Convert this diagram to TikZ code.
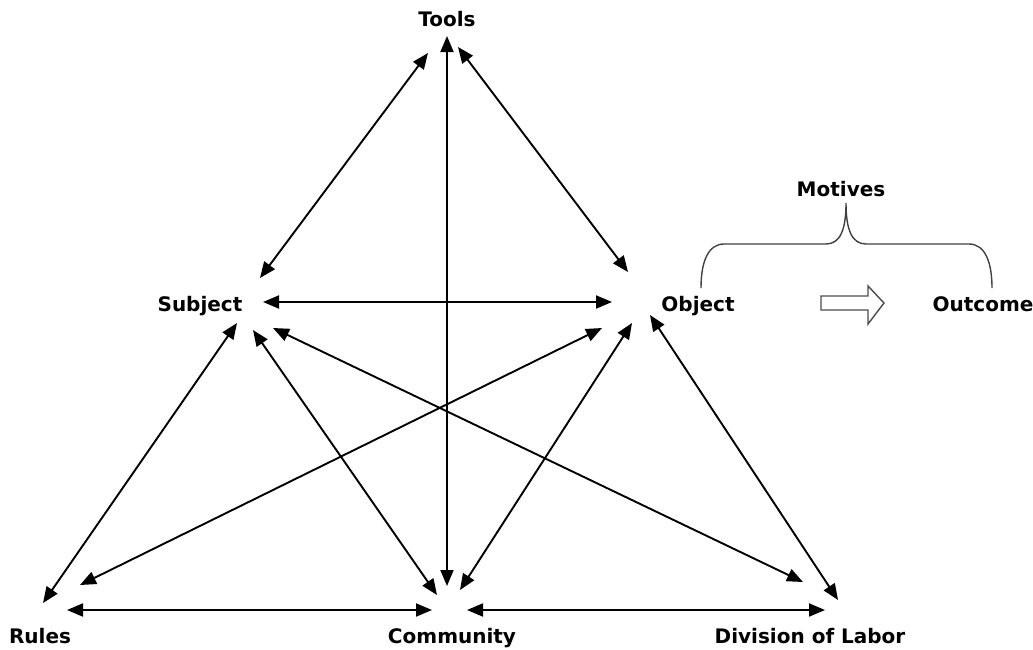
\documentclass[tikz,border=0pt]{standalone}
\usepackage{fontspec}
\setmainfont{DejaVu Sans}
\usetikzlibrary{arrows.meta}
\begin{document}
\begin{tikzpicture}[x=1pt,y=-1pt,
  lbl/.style={font=\fontsize{20}{23}\selectfont\bfseries, anchor=base, inner sep=0pt},
  conn/.style={line width=1.9pt, {Triangle[length=16pt,width=13pt]}-{Triangle[length=16pt,width=13pt]}},
  brace/.style={line width=1.4pt, draw=black!75},
  bigarrow/.style={line width=1.4pt, draw=black!70, fill=white, line join=miter}]
\useasboundingbox (0,0) rectangle (1033,649);
% labels
\node[lbl] (tools) at (447,26) {Tools};
\node[lbl] (subject) at (200,311) {Subject};
\node[lbl] (object) at (698,311) {Object};
\node[lbl] (outcome) at (983,311) {Outcome};
\node[lbl] (motives) at (841,196) {Motives};
\node[lbl] (rules) at (40,643) {Rules};
\node[lbl] (community) at (452,643) {Community};
\node[lbl] (division) at (810,643) {Division of Labor};
% endpoints
\coordinate (tS) at (428,53);  \coordinate (sT) at (260,278);
\coordinate (tO) at (458,47);  \coordinate (oT) at (628,272);
\coordinate (tC) at (447,36);  \coordinate (cT) at (447,586);
\coordinate (sO) at (263,302); \coordinate (oS) at (612,302);
\coordinate (sR) at (237,323); \coordinate (rS) at (43,603);
\coordinate (sC) at (253,330); \coordinate (cS) at (437,595);
\coordinate (sD) at (273,328); \coordinate (dS) at (803,582);
\coordinate (oR) at (602,328); \coordinate (rO) at (80,585);
\coordinate (oC) at (632,323); \coordinate (cO) at (460,590);
\coordinate (oD) at (650,315); \coordinate (dO) at (838,600);
\coordinate (rC) at (67,610);  \coordinate (cR) at (432,610);
\coordinate (cD) at (467,610); \coordinate (dC) at (825,610);
% connectors
\draw[conn] (tS) -- (sT);
\draw[conn] (tO) -- (oT);
\draw[conn] (tC) -- (cT);
\draw[conn] (sO) -- (oS);
\draw[conn] (sR) -- (rS);
\draw[conn] (sC) -- (cS);
\draw[conn] (sD) -- (dS);
\draw[conn] (oR) -- (rO);
\draw[conn] (oC) -- (cO);
\draw[conn] (oD) -- (dO);
\draw[conn] (rC) -- (cR);
\draw[conn] (cD) -- (dC);
% brace
\coordinate (bl) at (701,288);
\coordinate (br) at (992,288);
\coordinate (bc) at (846,203);
\draw[brace] (bl) .. controls (701,262) and (708,244) .. (724,244)
  -- (826,244) .. controls (840,244) and (846,230) .. (bc)
  .. controls (846,230) and (852,244) .. (866,244)
  -- (969,244) .. controls (985,244) and (992,262) .. (br);
% outlined arrow
\draw[bigarrow] (821,296) -- (868,296) -- (868,286) -- (884,303) -- (868,324) -- (868,310) -- (821,310) -- cycle;
\end{tikzpicture}
\end{document}
